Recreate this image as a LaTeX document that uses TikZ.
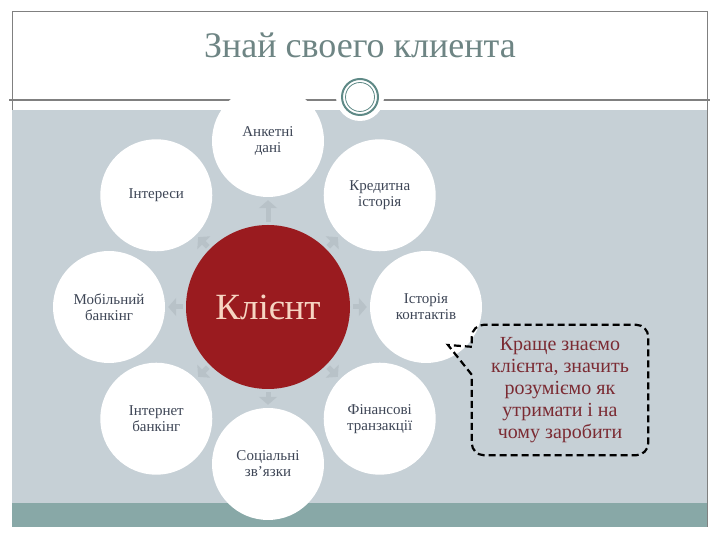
\documentclass[tikz,border=0pt]{standalone}
\usepackage{fontspec}
\setmainfont{Liberation Serif}
\usetikzlibrary{calc, arrows.meta}

\definecolor{panelgray}{HTML}{C6D0D6}
\definecolor{stripteal}{HTML}{88A8A7}
\definecolor{framegray}{HTML}{808080}
\definecolor{titleteal}{HTML}{6E8584}
\definecolor{ringteal}{HTML}{5E8986}
\definecolor{clientred}{HTML}{9A1B1F}
\definecolor{clientpeach}{HTML}{F7D5C2}
\definecolor{petaltext}{HTML}{3E4656}
\definecolor{notered}{HTML}{7B2B33}
\definecolor{hintgray}{HTML}{B8C2C8}

\tikzset{
  petal/.style={circle, fill=white, minimum size=112pt, inner sep=0pt, align=center,
                text=petaltext, font=\fontsize{15}{16}\selectfont},
  hub/.style={circle, fill=clientred, minimum size=164pt, inner sep=0pt,
              text=clientpeach, font=\fontsize{37}{40}\selectfont},
  hint/.style={draw=hintgray, line width=5pt, -{Triangle[width=18pt,length=8pt]},
               shorten <=3pt, shorten >=3pt},
  notebox/.style={minimum width=176pt, minimum height=130pt, inner sep=0pt, align=center,
                  text=notered, font=\fontsize{20}{22}\selectfont},
  noteline/.style={draw=black, line width=2.2pt, dash pattern=on 7pt off 4pt},
}

\begin{document}
\begin{tikzpicture}[x=1pt, y=1pt]
    \useasboundingbox (0,0) rectangle (720,540);

    % slide
    \draw[framegray, line width=1pt] (12,13) rectangle (707,528);
    \fill[panelgray] (12,37) rectangle (707,430);
    \fill[stripteal] (12,13) rectangle (707,37);
    \draw[framegray, line width=1.2pt] (9,440) -- (710,440);

    \node[font=\fontsize{36}{38}\selectfont, text=titleteal] (title) at (360,495) {Знай своего клиента};

    \node[circle, fill=white, minimum size=48pt] (badge) at (360,443) {};
    \draw[ringteal, line width=2pt] (badge.center) circle (18);
    \draw[ringteal, line width=0.8pt] (badge.center) circle (14.5);

    % cycle
    \node[hub]   (client)    at (268,233)                   {Клієнт};
    \node[petal] (survey)    at ($(client)+(90:166)$)       {Анкетні\\дані};
    \node[petal] (credit)    at ($(client)+(45:158)$)       {Кредитна\\історія};
    \node[petal] (contacts)  at ($(client)+(0:158)$)        {Історія\\контактів};
    \node[petal] (finance)   at ($(client)+(-45:158)$)      {Фінансові\\транзакції};
    \node[petal] (social)    at ($(client)+(-90:157)$)      {Соціальні\\зв’язки};
    \node[petal] (ebank)     at ($(client)+(-135:158)$)     {Інтернет\\банкінг};
    \node[petal] (mobile)    at ($(client)+(180:159)$)      {Мобільний\\банкінг};
    \node[petal] (interests) at ($(client)+(135:158)$)      {Інтереси};

    \foreach \p in {survey, credit, contacts, finance, social, ebank, mobile, interests}
        \draw[hint] (client) -- (\p);

    % callout
    \node[notebox] (note) at (560,150) {Краще знаємо\\клієнта, значить\\розуміємо як\\утримати і на\\чому заробити};
    \coordinate (tip) at (448,195);
    \draw[noteline] ([yshift=-22pt]note.north west) -- (tip) -- ([yshift=-50pt]note.north west)
        -- ([yshift=-60pt]note.north west) [rounded corners=12pt] -- (note.south west)
        -- (note.south east) -- (note.north east) -- (note.north west) -- ([yshift=-22pt]note.north west);
\end{tikzpicture}
\end{document}
